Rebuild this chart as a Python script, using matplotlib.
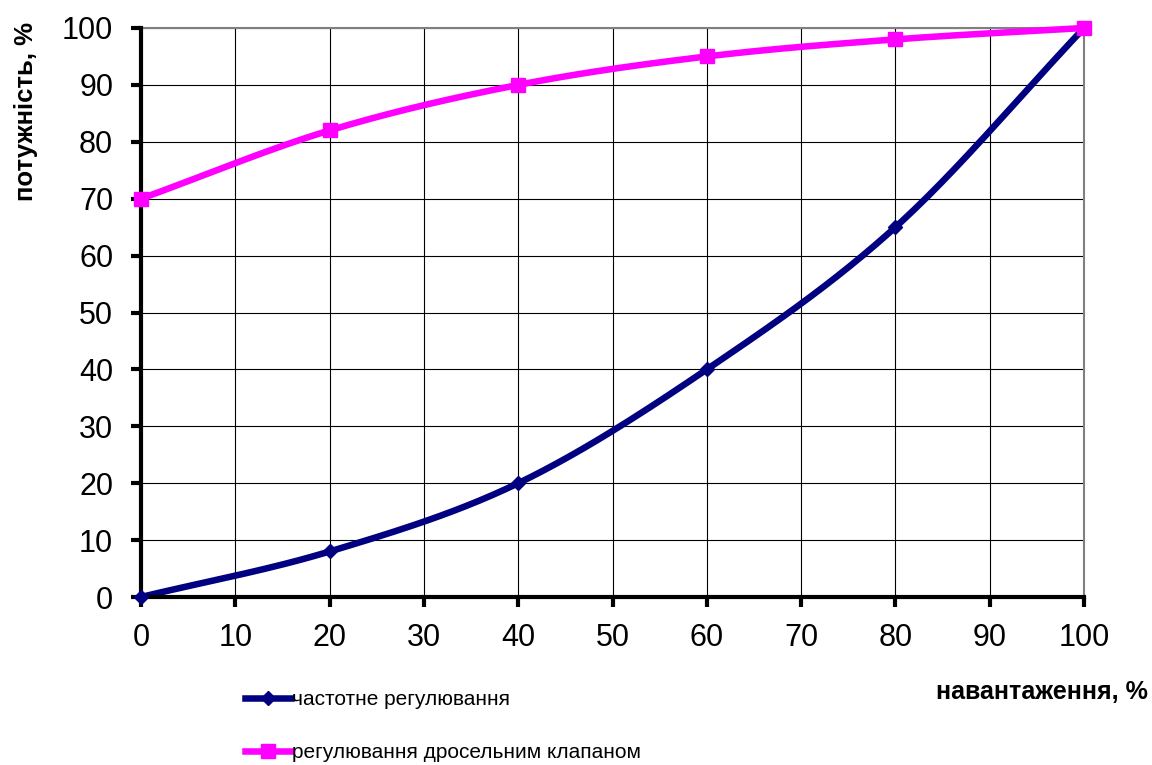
import numpy as np
import matplotlib.pyplot as plt
from matplotlib.lines import Line2D

plt.rcParams['font.family'] = ['Liberation Sans', 'DejaVu Sans']

load = [0, 20, 40, 60, 80, 100]
freq_power = [0, 8, 20, 40, 65, 100]
valve_power = [70, 82, 90, 95, 98, 100]

freq_label = "частотне регулювання"
valve_label = "регулювання дросельним клапаном"
navy = "#000080"
magenta = "#FF00FF"


def smooth(x, y, n=30):
    """Catmull-Rom curve through the points, like Excel's smoothed line."""
    x = np.asarray(x, float)
    y = np.asarray(y, float)
    px = np.concatenate([[2 * x[0] - x[1]], x, [2 * x[-1] - x[-2]]])
    py = np.concatenate([[2 * y[0] - y[1]], y, [2 * y[-1] - y[-2]]])
    xs, ys = [], []
    t = np.linspace(0, 1, n)
    for i in range(1, len(px) - 2):
        for p, out in ((px, xs), (py, ys)):
            p0, p1, p2, p3 = p[i - 1], p[i], p[i + 1], p[i + 2]
            out.extend(0.5 * (2 * p1 + (-p0 + p2) * t
                              + (2 * p0 - 5 * p1 + 4 * p2 - p3) * t ** 2
                              + (-p0 + 3 * p1 - 3 * p2 + p3) * t ** 3))
    return np.array(xs), np.array(ys)


fig = plt.figure(figsize=(11.52, 7.65), dpi=100)
ax = fig.add_axes([0.1224, 0.2196, 0.8186, 0.7438])

lw = 4.7
sx, sy = smooth(load, freq_power)
ax.plot(sx, sy, color=navy, lw=lw, solid_capstyle="round", zorder=3, clip_on=False)
ax.plot(load, freq_power, ls="none", marker="D", ms=7, color=navy, zorder=6,
        clip_on=False)

sx, sy = smooth(load, valve_power)
ax.plot(sx, sy, color=magenta, lw=lw, solid_capstyle="round", zorder=3, clip_on=False)
ax.plot(load, valve_power, ls="none", marker="s", ms=10.5, color=magenta, zorder=6,
        clip_on=False)

ax.set_xlim(0, 100)
ax.set_ylim(0, 100)
ax.set_xticks(range(0, 101, 10))
ax.set_yticks(range(0, 101, 10))
ax.grid(True, color="black", lw=0.8)
ax.set_axisbelow(True)

for side in ("left", "bottom"):
    ax.spines[side].set_linewidth(3)
    ax.spines[side].set_color("black")
    ax.spines[side].set_zorder(5)
for side in ("top", "right"):
    ax.spines[side].set_linewidth(1.5)
    ax.spines[side].set_color("#808080")

ax.tick_params(direction="out", length=7, width=3, labelsize=22)
ax.tick_params(axis="y", pad=13)
ax.tick_params(axis="x", pad=12)

fig.text(0.023, 1 - 22 / 765, "потужність, %", rotation=90, ha="center", va="top",
         fontsize=18.5, fontweight="bold")
fig.text(0.996, 1 - 692 / 765, "навантаження, %", ha="right", va="center",
         fontsize=18, fontweight="bold")

handles = [
    Line2D([], [], color=navy, lw=lw, marker="D", ms=7),
    Line2D([], [], color=magenta, lw=lw, marker="s", ms=10.5),
]
fig.legend(handles, [freq_label, valve_label], loc="center left",
           bbox_to_anchor=(0.2125, 1 - 726 / 765), frameon=False, fontsize=15,
           handlelength=2.2, handletextpad=0.05, labelspacing=1.65,
           borderaxespad=0, borderpad=0)

fig.savefig("out.png", dpi=100)
